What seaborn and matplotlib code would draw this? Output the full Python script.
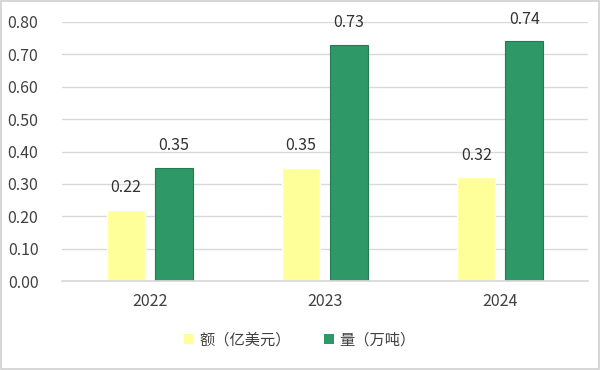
import pandas as pd
import seaborn as sns
import matplotlib.pyplot as plt
from matplotlib.patches import Rectangle

years = ["2022", "2023", "2024"]
series_names = ["额（亿美元）", "量（万吨）"]
value_amount = [0.22, 0.35, 0.32]
volume_tons = [0.35, 0.73, 0.74]
y_ticks = [0.0, 0.1, 0.2, 0.3, 0.4, 0.5, 0.6, 0.7, 0.8]

df = pd.DataFrame({
    "year": years * 2,
    "series": [series_names[0]] * 3 + [series_names[1]] * 3,
    "value": value_amount + volume_tons,
})

sns.set_theme(style="white")
plt.rcParams['font.family'] = ['Noto Sans CJK SC', 'DejaVu Sans']

fig = plt.figure(figsize=(6, 3.7), dpi=100)
ax = fig.add_axes([62 / 600, 1 - 281 / 370, 526 / 600, 259 / 370])

palette = {series_names[0]: "#FFFF99", series_names[1]: "#2E9966"}
sns.barplot(data=df, x="year", y="value", hue="series", palette=palette,
            width=0.55, gap=0.21, saturation=1, ax=ax, legend=False)

# darker outline on the green bars
for i, p in enumerate(ax.patches):
    if i >= 3:
        p.set_edgecolor("#247a52")
        p.set_linewidth(0.8)

# value labels
for c in ax.containers:
    ax.bar_label(c, fmt="%.2f", padding=10, fontsize=11.5, color="#333333")

ax.set_ylim(0, 0.8)
ax.set_yticks(y_ticks)
ax.set_yticklabels([f"{t:.2f}" for t in y_ticks])
ax.yaxis.grid(True, color="#d9d9d9", linewidth=1)
ax.set_axisbelow(True)
ax.set_xlabel("")
ax.set_ylabel("")
for s in ["top", "right", "left"]:
    ax.spines[s].set_visible(False)
ax.spines["bottom"].set_color("#d9d9d9")
ax.tick_params(axis="both", length=0, labelsize=11.5, colors="#404040")
ax.tick_params(axis="y", pad=17)
ax.tick_params(axis="x", pad=9)

handles = [Rectangle((0, 0), 1, 1, facecolor=palette[n], edgecolor="none") for n in series_names]
fig.legend(handles, series_names, loc="center", bbox_to_anchor=(0.5, 1 - 340 / 370),
           ncol=2, frameon=False, fontsize=11, handlelength=0.6, handleheight=0.6,
           columnspacing=2.2, handletextpad=0.4, labelcolor="#404040")

# outer border
fig.patches.append(Rectangle((0.002, 0.003), 0.996, 0.994, transform=fig.transFigure,
                             fill=False, edgecolor="#d0d0d0", linewidth=1.2))

fig.savefig("out.png", dpi=100)
